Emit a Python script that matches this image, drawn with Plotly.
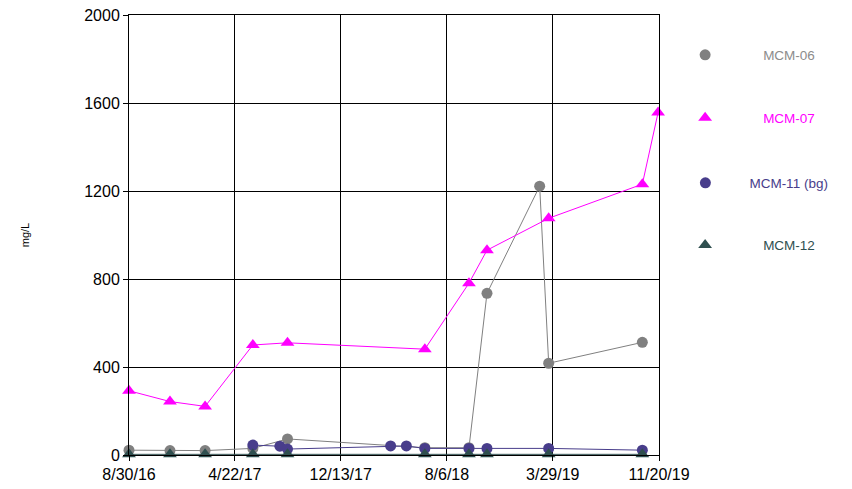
import plotly.graph_objects as go

# ---- data ----
dates_06 = ["2016-08-30", "2016-11-29", "2017-02-15", "2017-06-01", "2017-08-17",
            "2018-06-18", "2018-09-24", "2018-11-03", "2019-02-28", "2019-03-20", "2019-10-14"]
mcm06 = [22, 20, 20, 30, 73, 33, 33, 735, 1222, 417, 512]

dates_07 = ["2016-08-30", "2016-11-29", "2017-02-15", "2017-06-01", "2017-08-17",
            "2018-06-18", "2018-09-24", "2018-11-03", "2019-03-20", "2019-10-14", "2019-11-18"]
mcm07 = [292, 243, 221, 500, 510, 481, 781, 931, 1076, 1231, 1557]

dates_11 = ["2017-06-01", "2017-07-31", "2017-08-17", "2018-04-03", "2018-05-08",
            "2018-06-18", "2018-09-24", "2018-11-03", "2019-03-20", "2019-10-14"]
mcm11 = [45, 40, 27, 41, 41, 30, 30, 30, 30, 22]

dates_12 = ["2016-08-30", "2016-11-29", "2017-02-15", "2017-06-01", "2017-08-17",
            "2018-06-18", "2018-09-24", "2018-11-03", "2019-03-20", "2019-10-14"]
mcm12 = [3, 3, 3, 3, 3, 3, 3, 3, 3, 3]

x_ticks = ["2016-08-30", "2017-04-22", "2017-12-13", "2018-08-06", "2019-03-29", "2019-11-20"]
y_ticks = [0, 400, 800, 1200, 1600, 2000]

series = [
    ("MCM-06", dates_06, mcm06, "#808080", "#8c8c8c", "circle", 11, "legend"),
    ("MCM-07", dates_07, mcm07, "#FF00FF", "#FF00FF", "triangle-up", 12, "legend2"),
    ("MCM-11 (bg)", dates_11, mcm11, "#483D8B", "#483D8B", "circle", 11, "legend3"),
    ("MCM-12", dates_12, mcm12, "#2F4F4F", "#2F4F4F", "triangle-up", 12, "legend4"),
]

fig = go.Figure()
# connecting lines (not in legend)
for name, xs, ys, col, tcol, sym, sz, lg in series:
    fig.add_trace(go.Scatter(
        x=xs, y=ys, name=name, mode="lines",
        line=dict(color=col, width=1),
        cliponaxis=False, showlegend=False, hoverinfo="skip",
    ))
# markers (shown in legends)
for name, xs, ys, col, tcol, sym, sz, lg in series:
    fig.add_trace(go.Scatter(
        x=xs, y=ys, name=name, mode="markers",
        marker=dict(color=col, symbol=sym, size=sz),
        cliponaxis=False, legend=lg,
    ))

font_family = "Liberation Sans, Arial, sans-serif"
legend_y = [0.909, 0.766, 0.618, 0.477]
legend_x = [0.9776, 0.9776, 1.0045, 0.9776]
legend_iw = [106, 106, 78, 106]
legend_cols = [s[4] for s in series]
legend_names = ["legend", "legend2", "legend3", "legend4"]
layout_legends = {}
for i, ln in enumerate(legend_names):
    layout_legends[ln] = dict(
        x=legend_x[i], y=legend_y[i], xanchor="left", yanchor="middle",
        font=dict(family=font_family, size=13.5, color=legend_cols[i]),
        bgcolor="rgba(0,0,0,0)", itemwidth=legend_iw[i],
    )

# the page body has an 8px margin, so the figure is sized/offset to fit the window
fig.update_layout(
    width=844, height=481,
    margin=dict(l=121, r=193, t=7, b=34),
    paper_bgcolor="white", plot_bgcolor="white",
    font=dict(family=font_family, color="black"),
    showlegend=True,
    **layout_legends,
)
fig.update_xaxes(
    type="date", range=[x_ticks[0], x_ticks[-1]],
    tickvals=x_ticks, tickformat="%-m/%-d/%y",
    showgrid=True, gridcolor="black", gridwidth=1,
    showline=True, linecolor="black", linewidth=1, mirror=True,
    ticks="outside", ticklen=5, tickcolor="black",
    tickfont=dict(size=16, family=font_family), zeroline=False,
    automargin=False, ticklabeloverflow="allow",
)
fig.update_yaxes(
    range=[0, 2000], tickvals=y_ticks,
    showgrid=True, gridcolor="black", gridwidth=1,
    showline=True, linecolor="black", linewidth=1, mirror=True,
    ticks="outside", ticklen=5, tickcolor="black",
    tickfont=dict(size=16, family=font_family), zeroline=False,
    title=dict(text="mg/L", font=dict(size=11, family=font_family), standoff=52),
    automargin=False, ticklabeloverflow="allow",
)
fig.write_html("out.html")
